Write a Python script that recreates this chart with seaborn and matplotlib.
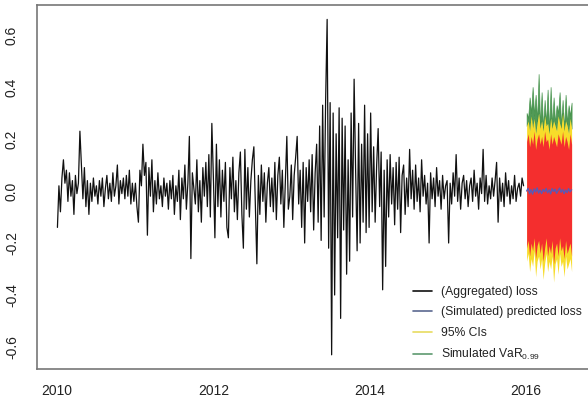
import numpy as np
import pandas as pd
import matplotlib
matplotlib.use("Agg")
import matplotlib.pyplot as plt
from matplotlib.lines import Line2D
import seaborn as sns

# ==========================
# DATA (weekly)
# ==========================

loss_2010 = [
    -0.14, 0.02, -0.08, 0.05, 0.12, 0.03, 0.08, -0.04, 0.07, -0.02,
    0.04, -0.09, 0.06, -0.01, 0.03, 0.23, 0.10, -0.03, 0.09, -0.06,
    0.04, -0.09, 0.03, -0.04, 0.05, -0.02,
    0.02, -0.05, 0.04, -0.02, 0.05, -0.06, 0.01, 0.06, -0.03, 0.03,
    -0.04, 0.07, -0.02, 0.02, 0.10, -0.05, 0.04, -0.01, 0.05, -0.03,
    0.06, -0.02, 0.08, -0.05, 0.03, -0.04,
]
loss_2011 = [
    0.03, -0.06, -0.12, 0.08, 0.02, 0.18, 0.06, 0.11, -0.17, 0.09,
    -0.02, 0.12, -0.08, 0.04, -0.05, 0.07, -0.03, 0.02, -0.06, 0.05,
    -0.02, 0.03, -0.07, 0.04, -0.03, 0.06,
    -0.09, 0.02, -0.04, 0.08, -0.11, 0.05, -0.03, 0.10, -0.07, 0.03,
    0.21, -0.26, 0.07, 0.01, -0.05, 0.12, -0.08, 0.04, -0.12, 0.09,
    -0.02, 0.11, -0.06, 0.14, -0.10, 0.26,
]
loss_2012 = [
    0.05, -0.18, 0.18, -0.06, 0.12, -0.10, 0.08, -0.04, 0.11, -0.14,
    -0.18, 0.09, -0.03, 0.13, -0.08, 0.04, -0.11, 0.07, 0.15, -0.09,
    -0.22, 0.16, -0.07, 0.09, -0.10, 0.04,
    0.12, 0.17, -0.05, -0.28, 0.06, -0.09, 0.10, -0.04, 0.07, -0.12,
    0.03, 0.09, -0.06, 0.05, -0.08, 0.11, -0.11, 0.06, 0.13, -0.05,
    0.08, -0.14, 0.04, 0.21, -0.07, -0.02,
]
loss_2013 = [
    0.10, -0.11, 0.06, 0.13, 0.21, -0.05, 0.08, -0.14, 0.11, -0.20,
    0.09, -0.04, 0.12, -0.08, 0.14, -0.15, 0.07, 0.18, -0.12, 0.25,
    -0.19, 0.33, -0.10, 0.35, 0.66, -0.22,
    0.34, -0.63, 0.30, -0.40, 0.22, -0.18, 0.32, -0.49, 0.28, -0.15,
    0.25, -0.32, 0.12, -0.27, 0.30, -0.10, 0.43, 0.08, -0.23, 0.26,
    -0.20, 0.18, -0.12, 0.33, -0.16, 0.22,
]
loss_2014 = [
    -0.14, 0.30, -0.08, 0.17, -0.12, 0.10, 0.24, -0.06, 0.15, -0.38,
    0.08, -0.29, 0.12, -0.10, 0.14, -0.05, 0.09, -0.13, 0.11, -0.07,
    0.13, -0.16, 0.06, 0.10, -0.09, 0.05,
    -0.06, 0.16, -0.03, 0.08, -0.07, 0.10, -0.04, 0.05, -0.08, 0.12,
    -0.02, 0.06, -0.05, 0.03, -0.20, 0.07, -0.03, 0.05, -0.06, 0.09,
    -0.02, 0.04, -0.07, 0.06, -0.03, 0.02,
]
loss_2015 = [
    0.04, -0.20, 0.03, -0.05, 0.07, -0.02, 0.14, -0.04, 0.05, -0.07,
    0.03, 0.06, -0.03, 0.04, -0.06, 0.02, 0.05, -0.04, 0.08, -0.02,
    0.03, -0.07, 0.05, -0.01, 0.16, -0.04,
    0.06, -0.05, 0.02, -0.03, 0.05, -0.02, 0.04, 0.11, -0.12, 0.05,
    -0.04, 0.03, -0.06, 0.07, -0.02, 0.04, -0.05, 0.02, -0.03, 0.06,
    -0.04, 0.01, 0.03, -0.02, 0.05, 0.02,
]

# 2016 forecast (weekly)
pred_loss = [
    0.00, 0.01, -0.01, 0.005, -0.012, 0.008, -0.004, 0.012, -0.008, 0.003,
    -0.01, 0.006, -0.003, 0.01, -0.007, 0.004, -0.011, 0.009, -0.002, 0.007,
    -0.009, 0.002, 0.011, -0.005, 0.006, -0.01, 0.004, -0.006, 0.009, -0.003,
    0.005,
]
band_hi = [
    0.19, 0.22, 0.17, 0.21, 0.18, 0.23, 0.16, 0.20, 0.22, 0.18,
    0.21, 0.17, 0.23, 0.19, 0.20, 0.16, 0.22, 0.18, 0.21, 0.19,
    0.17, 0.22, 0.20, 0.18, 0.23, 0.17, 0.21, 0.19, 0.16, 0.22,
    0.18,
]
band_lo = [
    -0.22, -0.19, -0.25, -0.20, -0.23, -0.18, -0.26, -0.21, -0.19, -0.24,
    -0.20, -0.27, -0.22, -0.18, -0.25, -0.21, -0.24, -0.19, -0.28, -0.22,
    -0.20, -0.25, -0.18, -0.23, -0.21, -0.26, -0.19, -0.24, -0.22, -0.20,
    -0.25,
]
ci_hi = [
    0.25, 0.27, 0.23, 0.29, 0.24, 0.28, 0.22, 0.26, 0.30, 0.24,
    0.27, 0.23, 0.29, 0.25, 0.26, 0.22, 0.28, 0.24, 0.27, 0.25,
    0.23, 0.29, 0.26, 0.24, 0.30, 0.23, 0.27, 0.25, 0.22, 0.28,
    0.24,
]
ci_lo = [
    -0.27, -0.24, -0.31, -0.26, -0.29, -0.23, -0.33, -0.27, -0.25, -0.30,
    -0.26, -0.34, -0.28, -0.24, -0.31, -0.27, -0.30, -0.25, -0.35, -0.28,
    -0.26, -0.32, -0.24, -0.29, -0.27, -0.33, -0.25, -0.30, -0.28, -0.26,
    -0.31,
]
var_99 = [
    0.30, 0.28, 0.36, 0.30, 0.40, 0.29, 0.37, 0.27, 0.45, 0.25,
    0.38, 0.24, 0.35, 0.26, 0.39, 0.23, 0.40, 0.25, 0.36, 0.26,
    0.33, 0.30, 0.38, 0.25, 0.35, 0.24, 0.37, 0.26, 0.33, 0.29,
    0.34,
]

y_ticks = [-0.6, -0.4, -0.2, 0.0, 0.2, 0.4, 0.6]
y_labels = ["-0.6", "-0.4", "-0.2", "0.0", "0.2", "0.4", "0.6"]
x_ticks = [2010, 2012, 2014, 2016]
legend_labels = [
    "(Aggregated) loss",
    "(Simulated) predicted loss",
    "95% CIs",
    "Simulated VaR$_{0.99}$",
]

# ==========================
# FRAMES
# ==========================

def dec_year(d):
    return d.year + (d.dayofyear - 1) / 365.25

loss = loss_2010 + loss_2011 + loss_2012 + loss_2013 + loss_2014 + loss_2015
hist_dates = pd.date_range("2010-01-03", periods=len(loss), freq="W")
hist = pd.DataFrame({"year": dec_year(hist_dates), "loss": loss})

fc_dates = pd.date_range("2016-01-03", periods=len(pred_loss), freq="W")
fc = pd.DataFrame({
    "year": dec_year(fc_dates),
    "pred": pred_loss,
    "band_hi": band_hi,
    "band_lo": band_lo,
    "ci_hi": ci_hi,
    "ci_lo": ci_lo,
    "var": var_99,
})

# ==========================
# PLOT
# ==========================

sns.set_style("white")
plt.rcParams["font.family"] = ["Liberation Sans", "DejaVu Sans"]
plt.rcParams["mathtext.default"] = "regular"

c_black = "#111111"
c_blue = "#5a5ab4"
c_yellow = "#f7dc2a"
c_green = "#3f8f45"
c_red = "#f42e2e"

fig = plt.figure(figsize=(5.88, 3.98), dpi=100)
ax = fig.add_axes([37 / 588, 1 - 369 / 398, 1 - 37 / 588, (369 - 5) / 398])

sns.lineplot(data=hist, x="year", y="loss", ax=ax, color=c_black,
             lw=0.9, estimator=None, sort=False)

# VaR spikes rising from the CI edge, then CI band, then simulated paths
ax.fill_between(fc["year"], fc["ci_hi"], fc["var"], color=c_green, lw=0.5,
                edgecolor=c_green, alpha=0.9)
ax.fill_between(fc["year"], fc["ci_lo"], fc["ci_hi"], color=c_yellow, lw=0)
ax.fill_between(fc["year"], fc["band_lo"], fc["band_hi"], color=c_red, lw=0)
sns.lineplot(data=fc, x="year", y="pred", ax=ax, color=c_blue,
             lw=1.0, estimator=None, sort=False)

ax.set_xlim(2010 - 20 / 78.2, 2010 + 531 / 78.2)
ax.set_ylim(-178 / 260, 186 / 260)

ax.set_xticks(x_ticks)
ax.set_xticklabels([str(t) for t in x_ticks], fontsize=10, color="#222222")
ax.set_yticks(y_ticks)
ax.set_yticklabels(y_labels, rotation=90, va="center", fontsize=10, color="#222222")
ax.tick_params(axis="x", direction="out", length=7, width=1, color="#666666", pad=4)
ax.tick_params(axis="y", direction="out", length=6, width=1, color="#666666", pad=7)
ax.set_xlabel("")
ax.set_ylabel("")

for side in ["left", "bottom", "top"]:
    ax.spines[side].set_color("#777777")
    ax.spines[side].set_linewidth(1.2)
ax.spines["right"].set_visible(False)

handles = [
    Line2D([], [], color=c_black, lw=1.2),
    Line2D([], [], color="#5b6890", lw=1.2),
    Line2D([], [], color="#e8dc60", lw=1.2),
    Line2D([], [], color="#5e9a70", lw=1.2),
]
fig.legend(handles, legend_labels, loc="upper left",
           bbox_to_anchor=(413 / 588, 1 - 286 / 398),
           frameon=False, fontsize=8.7, borderpad=0, borderaxespad=0,
           handlelength=1.6, handletextpad=0.7, labelspacing=0.7,
           labelcolor="#222222")

fig.savefig("out.png", dpi=100)
